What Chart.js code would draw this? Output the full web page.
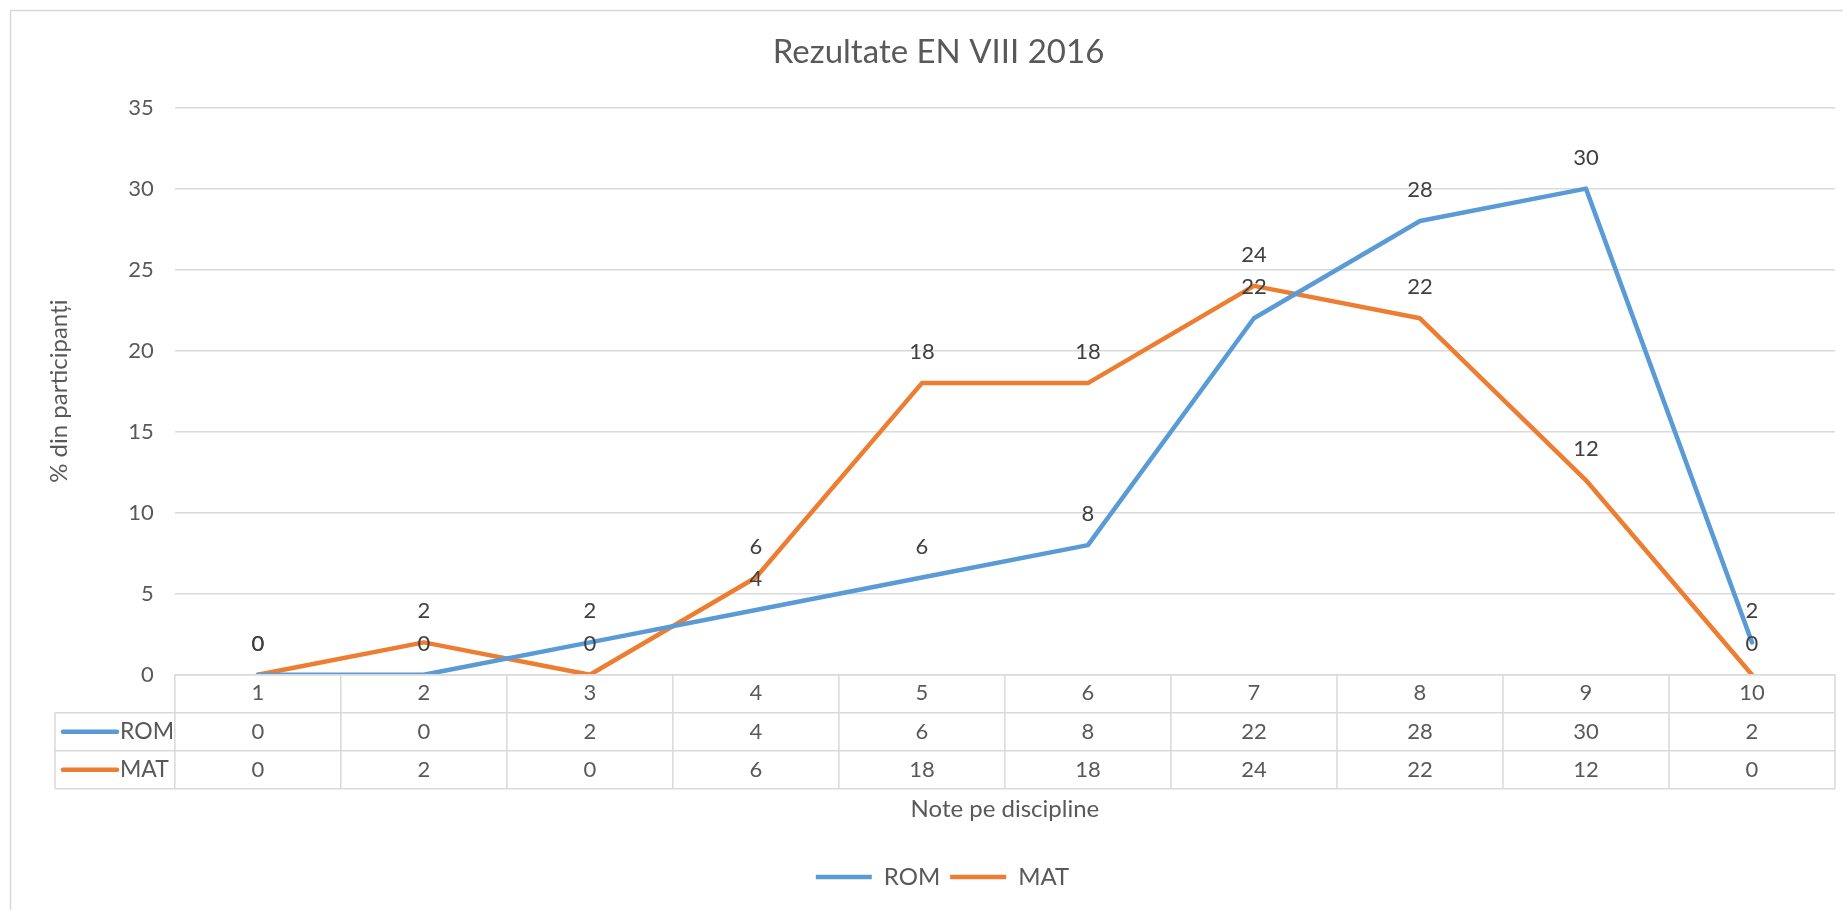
<!DOCTYPE html>
<html>
<head>
<meta charset="utf-8">
<script src="https://cdn.jsdelivr.net/npm/chart.js@4"></script>
<style>
  html, body { margin: 0; padding: 0; background: #fff; }
  #wrap { width: 1843px; height: 910px; }
</style>
</head>
<body>
<div id="wrap"><canvas id="myChart" width="1843" height="910"></canvas></div>
<script>
var note = ['1', '2', '3', '4', '5', '6', '7', '8', '9', '10'];
var rom = [0, 0, 2, 4, 6, 8, 22, 28, 30, 2];
var mat = [0, 2, 0, 6, 18, 18, 24, 22, 12, 0];
var seriesNames = ['ROM', 'MAT'];
var yMax = 35;
var yStep = 5;

var blue = '#5B9BD5';
var orange = '#ED7D31';
var gridColor = '#D9D9D9';
var fontName = 'Lato, "Open Sans", sans-serif';

// light frame of the chart object (top and left edges only, the rest is cut off)
// the Excel chart object is wider than the picture, so title and legend sit a bit right of centre
var framePlugin = {
    id: 'frame',
    afterLayout: function (chart) {
        if (chart.titleBlock) {
            chart.titleBlock.left += 16;
            chart.titleBlock.right += 16;
        }
        if (chart.legend) {
            chart.legend.left += 20;
            chart.legend.right += 20;
            chart.legend.top -= 2;
            chart.legend.bottom -= 2;
        }
    },
    beforeDraw: function (chart) {
        var ctx = chart.ctx;
        ctx.save();
        ctx.strokeStyle = '#D9D9D9';
        ctx.lineWidth = 1.5;
        ctx.beginPath();
        ctx.moveTo(10.5, chart.height);
        ctx.lineTo(10.5, 10.5);
        ctx.lineTo(chart.width, 10.5);
        ctx.stroke();
        ctx.restore();
    }
};

// value labels above every point
var valueLabels = {
    id: 'valueLabels',
    afterDatasetsDraw: function (chart) {
        var ctx = chart.ctx;
        ctx.save();
        ctx.font = '22px ' + fontName;
        ctx.fillStyle = '#404040';
        ctx.textAlign = 'center';
        ctx.textBaseline = 'middle';
        chart.data.datasets.forEach(function (ds, i) {
            chart.getDatasetMeta(i).data.forEach(function (pt, j) {
                ctx.fillText(String(ds.data[j]), pt.x, pt.y - 31);
            });
        });
        ctx.restore();
    }
};

// data table under the x axis (Excel style)
var dataTable = {
    id: 'dataTable',
    afterDraw: function (chart) {
        var ctx = chart.ctx;
        var area = chart.chartArea;
        var x = chart.scales.x;
        var rowH = 38;
        var top = area.bottom;
        var left = 55;
        var right = area.right;
        var n = note.length;
        var cw = (area.right - area.left) / n;

        ctx.save();
        ctx.strokeStyle = gridColor;
        ctx.lineWidth = 1.5;
        ctx.beginPath();
        // horizontal lines
        ctx.moveTo(area.left, top);
        ctx.lineTo(right, top);
        for (var r = 1; r <= 3; r++) {
            ctx.moveTo(left, top + rowH * r);
            ctx.lineTo(right, top + rowH * r);
        }
        // vertical lines
        for (var k = 0; k <= n; k++) {
            var xx = area.left + cw * k;
            ctx.moveTo(xx, top);
            ctx.lineTo(xx, top + rowH * 3);
        }
        ctx.moveTo(left, top + rowH);
        ctx.lineTo(left, top + rowH * 3);
        ctx.stroke();

        ctx.fillStyle = '#595959';
        ctx.textBaseline = 'middle';
        chart.data.datasets.forEach(function (ds, i) {
            var cy = top + rowH * (i + 1.5);
            // legend key
            ctx.strokeStyle = ds.borderColor;
            ctx.lineWidth = 4.5;
            ctx.lineCap = 'round';
            ctx.beginPath();
            ctx.moveTo(left + 8, cy);
            ctx.lineTo(left + 62, cy);
            ctx.stroke();
            ctx.font = '23px ' + fontName;
            ctx.textAlign = 'left';
            ctx.fillText(ds.label, left + 65, cy);
            ctx.font = '22px ' + fontName;
            ctx.textAlign = 'center';
            ds.data.forEach(function (v, j) {
                ctx.fillText(String(v), x.getPixelForValue(j), cy);
            });
        });
        ctx.restore();
    }
};

var ctx = document.getElementById('myChart').getContext('2d');
var myChart = new Chart(ctx, {
    type: 'line',
    data: {
        labels: note,
        datasets: [{
            label: seriesNames[0],
            data: rom,
            borderColor: blue,
            backgroundColor: blue,
            borderWidth: 4.5,
            borderCapStyle: 'round',
            borderJoinStyle: 'round',
            pointRadius: 0,
            tension: 0
        }, {
            label: seriesNames[1],
            data: mat,
            borderColor: orange,
            backgroundColor: orange,
            borderWidth: 4.5,
            borderCapStyle: 'round',
            borderJoinStyle: 'round',
            pointRadius: 0,
            tension: 0
        }]
    },
    options: {
        responsive: false,
        animation: false,
        layout: {
            padding: { top: 10, left: 10, right: 8, bottom: 9 }
        },
        plugins: {
            title: {
                display: true,
                text: 'Rezultate EN VIII 2016',
                color: '#595959',
                font: { family: fontName, size: 33, weight: 'normal' },
                padding: { top: 23, bottom: 35 }
            },
            legend: {
                position: 'bottom',
                labels: {
                    usePointStyle: true,
                    pointStyle: 'line',
                    pointStyleWidth: 56,
                    color: '#595959',
                    font: { family: fontName, size: 24 },
                    padding: 10
                }
            },
            tooltip: { enabled: false }
        },
        scales: {
            x: {
                offset: true,
                grid: { display: false, drawTicks: false },
                border: { display: false },
                ticks: {
                    color: '#595959',
                    font: { family: fontName, size: 22 },
                    padding: 5,
                    maxRotation: 0
                },
                title: {
                    display: true,
                    text: 'Note pe discipline',
                    color: '#595959',
                    font: { family: fontName, size: 24 },
                    padding: { top: 84, bottom: 33 }
                }
            },
            y: {
                min: 0,
                max: yMax,
                grid: { color: gridColor, lineWidth: 1.5, drawTicks: false },
                border: { display: false },
                ticks: {
                    stepSize: yStep,
                    color: '#595959',
                    font: { family: fontName, size: 22 },
                    padding: 21
                },
                title: {
                    display: true,
                    text: '% din participanți',
                    color: '#595959',
                    font: { family: fontName, size: 24 },
                    padding: { top: 35, bottom: 33.5 }
                }
            }
        }
    },
    plugins: [framePlugin, valueLabels, dataTable]
});
</script>
</body>
</html>
